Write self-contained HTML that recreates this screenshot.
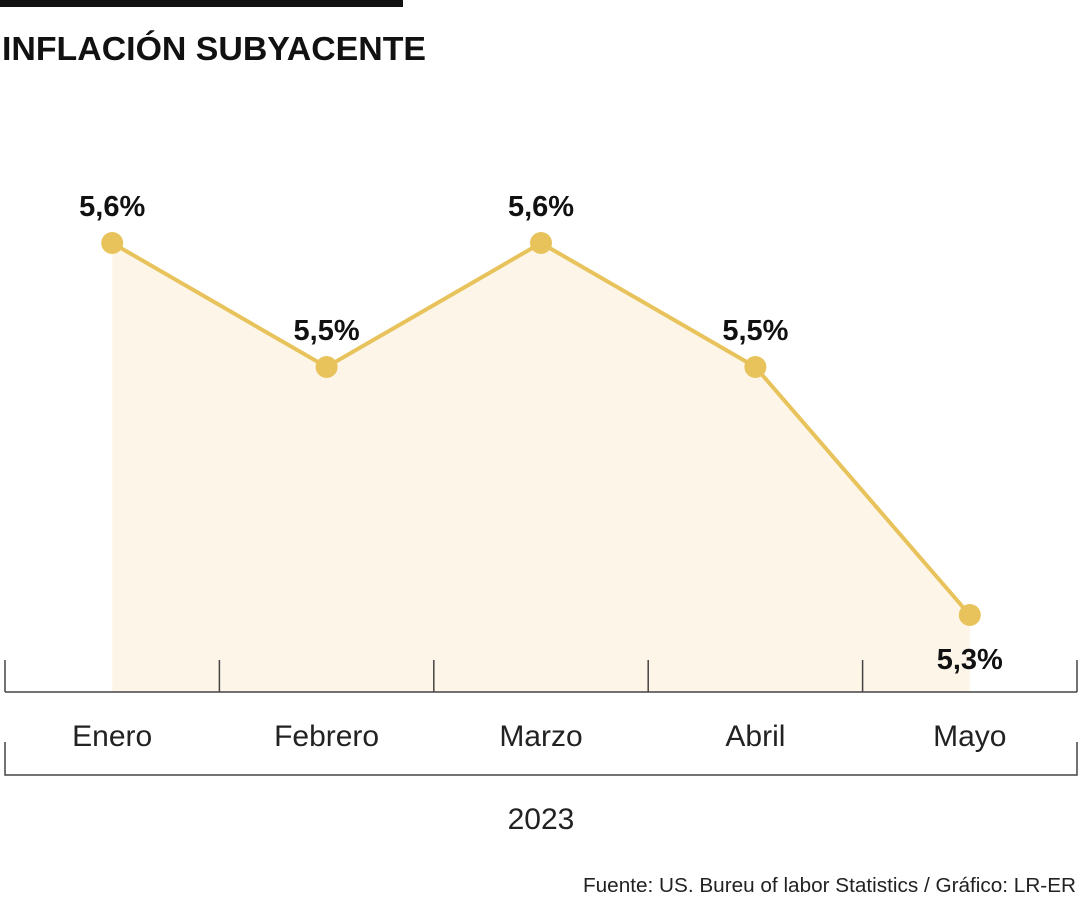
<!DOCTYPE html>
<html><head><meta charset="utf-8"><style>
body{margin:0;background:#fff;width:1080px;height:900px;overflow:hidden;font-family:"Liberation Sans",sans-serif}
</style></head><body>
<svg width="1080" height="900">
<rect x="0" y="0" width="403" height="7" fill="#111"/>
<text x="2" y="60" font-size="33" font-weight="bold" fill="#111" textLength="424" lengthAdjust="spacingAndGlyphs">INFLACIÓN SUBYACENTE</text>
<g id="plot"></g>
<text x="583" y="892" font-size="20" fill="#222" textLength="493" lengthAdjust="spacingAndGlyphs">Fuente: US. Bureu of labor Statistics / Gráfico: LR-ER</text>
</svg>
<script>
const categories=["Enero","Febrero","Marzo","Abril","Mayo"];
const values=[5.6,5.5,5.6,5.5,5.3];
const labels=["5,6%","5,5%","5,6%","5,5%","5,3%"];
const yearLabel="2023";
const NS="http://www.w3.org/2000/svg";
const g=document.getElementById('plot');
const x0=5,x1=1077,baseY=692;
const band=(x1-x0)/categories.length;
const xs=i=>x0+band*(i+0.5);
const ys=v=>243+(5.6-v)*1240;
function mk(t,a){const e=document.createElementNS(NS,t);for(const k in a)e.setAttribute(k,a[k]);g.appendChild(e);return e;}
let pts=values.map((v,i)=>xs(i)+","+ys(v));
let area=mk('polygon',{points:xs(0)+","+baseY+" "+pts.join(" ")+" "+xs(values.length-1)+","+baseY,fill:"#fdf5e7"});


let ax=mk('line',{x1:x0,x2:x1,y1:baseY,y2:baseY,stroke:"#444","stroke-width":1.5});


for(let i=0;i<=categories.length;i++){
 let t=mk('line',{x1:x0+band*i,x2:x0+band*i,y1:660,y2:baseY,stroke:"#444","stroke-width":1.5});
 
 
}
let br=mk('path',{d:`M${x0},742V775H${x1}V742`,fill:"none",stroke:"#444","stroke-width":1.5});


let ln=mk('polyline',{points:pts.join(" "),fill:"none",stroke:"#e8c35c","stroke-width":4});


values.forEach((v,i)=>{
 let c=mk('circle',{cx:xs(i),cy:ys(v),r:11,fill:"#e8c35c"});
 
 
 let below=i===values.length-1;
 let t=mk('text',{x:xs(i),y:below?ys(v)+54:ys(v)-27,"font-size":29,"font-weight":"bold","text-anchor":"middle",fill:"#111"});
 t.textContent=labels[i];
 
 
 let m=mk('text',{x:xs(i),y:746,"font-size":30,"text-anchor":"middle",fill:"#222"});
 m.textContent=categories[i];
 
 
});
let yr=mk('text',{x:541,y:829,"font-size":30,"text-anchor":"middle",fill:"#222"});
yr.textContent=yearLabel;


</script>
</body></html>
